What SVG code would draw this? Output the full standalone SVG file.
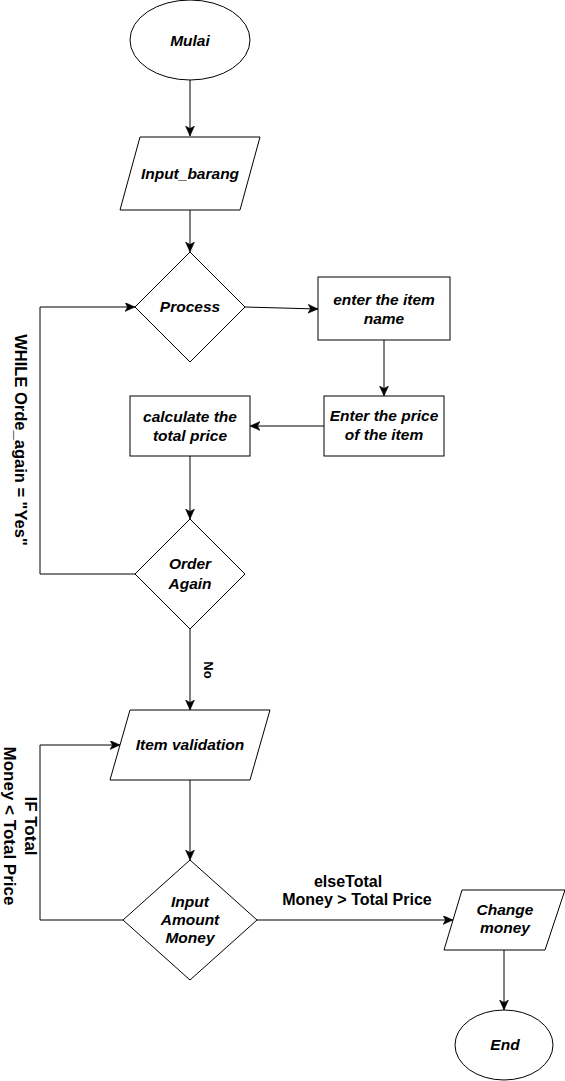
<svg xmlns="http://www.w3.org/2000/svg" width="565" height="1081" viewBox="0 0 565 1081">
<style>
.shape{fill:#fff;stroke:#000;stroke-width:1}
.t{font-family:"Liberation Sans",Arial,sans-serif;font-size:15.5px;font-style:italic;font-weight:bold;fill:#000;text-anchor:middle}
.lbl{font-family:"Liberation Sans",Arial,sans-serif;font-weight:bold;fill:#000;text-anchor:middle}
.edge{fill:none;stroke:#000;stroke-width:1;marker-end:url(#arr)}
</style>
<defs>
<marker id="arr" markerUnits="userSpaceOnUse" markerWidth="12" markerHeight="10" refX="10" refY="4.5" orient="auto">
<path d="M0,0 L10,4.5 L0,9 L2.5,4.5 Z" fill="#000" stroke="#000" stroke-width="0.5"/>
</marker>
</defs>
<rect width="565" height="1081" fill="#fff"/>
<g id="connectors">
<path class="edge" d="M190,80 L190,136"/>
<path class="edge" d="M190,210 L190,252"/>
<path class="edge" d="M245,307 L318,309"/>
<path class="edge" d="M384,340 L384,396"/>
<path class="edge" d="M324,426 L250,426"/>
<path class="edge" d="M190,456 L190,519"/>
<path class="edge" d="M135,574 L40,574 L40,307 L135,307"/>
<path class="edge" d="M190,629 L190,710"/>
<path class="edge" d="M190,780 L190,860"/>
<path class="edge" d="M123,920 L40,920 L40,745 L120,745"/>
<path class="edge" d="M257,920 L453,920"/>
<path class="edge" d="M504,950 L504,1010"/>
<text class="lbl" font-size="16.5" transform="translate(15,440) rotate(90)">WHILE Orde_again = "Yes"</text>
<text class="lbl" font-size="13" transform="translate(204,670) rotate(90)">No</text>
<text class="lbl" font-size="17" transform="translate(25,826) rotate(90)">IF Total</text>
<text class="lbl" font-size="17" transform="translate(4,826) rotate(90)">Money &lt; Total Price</text>
<text class="lbl" font-size="16" x="348" y="887">elseTotal</text>
<text class="lbl" font-size="16" x="357" y="905">Money &gt; Total Price</text>
</g>
<g id="mulai">
<ellipse class="shape" cx="190" cy="40" rx="60" ry="40"/>
<text class="t" x="190" y="46">Mulai</text>
</g>
<g id="input_barang">
<polygon class="shape" points="140,137 260,137 240,210 120,210"/>
<text class="t" x="190" y="179">Input_barang</text>
</g>
<g id="process">
<polygon class="shape" points="190,252 245,307 190,362 135,307"/>
<text class="t" x="190" y="312">Process</text>
</g>
<g id="item_name">
<rect class="shape" x="318" y="277" width="132" height="63"/>
<text class="t" x="384" y="305">enter the item</text>
<text class="t" x="384" y="324">name</text>
</g>
<g id="item_price">
<rect class="shape" x="324" y="396" width="120" height="60"/>
<text class="t" x="384" y="421">Enter the price</text>
<text class="t" x="384" y="440">of the item</text>
</g>
<g id="total_price">
<rect class="shape" x="130" y="396" width="120" height="60"/>
<text class="t" x="190" y="422">calculate the</text>
<text class="t" x="190" y="441">total price</text>
</g>
<g id="order_again">
<polygon class="shape" points="190,519 245,574 190,629 135,574"/>
<text class="t" x="190" y="569">Order</text>
<text class="t" x="190" y="589">Again</text>
</g>
<g id="item_validation">
<polygon class="shape" points="130,710 270,710 250,780 110,780"/>
<text class="t" x="190" y="750">Item validation</text>
</g>
<g id="input_money">
<polygon class="shape" points="190,860 257,920 190,980 123,920"/>
<text class="t" x="190" y="907">Input</text>
<text class="t" x="190" y="925">Amount</text>
<text class="t" x="190" y="943">Money</text>
</g>
<g id="change_money">
<polygon class="shape" points="462,890 565,890 545,950 444,950"/>
<text class="t" x="505" y="915">Change</text>
<text class="t" x="505" y="933">money</text>
</g>
<g id="end">
<ellipse class="shape" cx="504" cy="1045" rx="49" ry="35"/>
<text class="t" x="505" y="1050">End</text>
</g>
</svg>
